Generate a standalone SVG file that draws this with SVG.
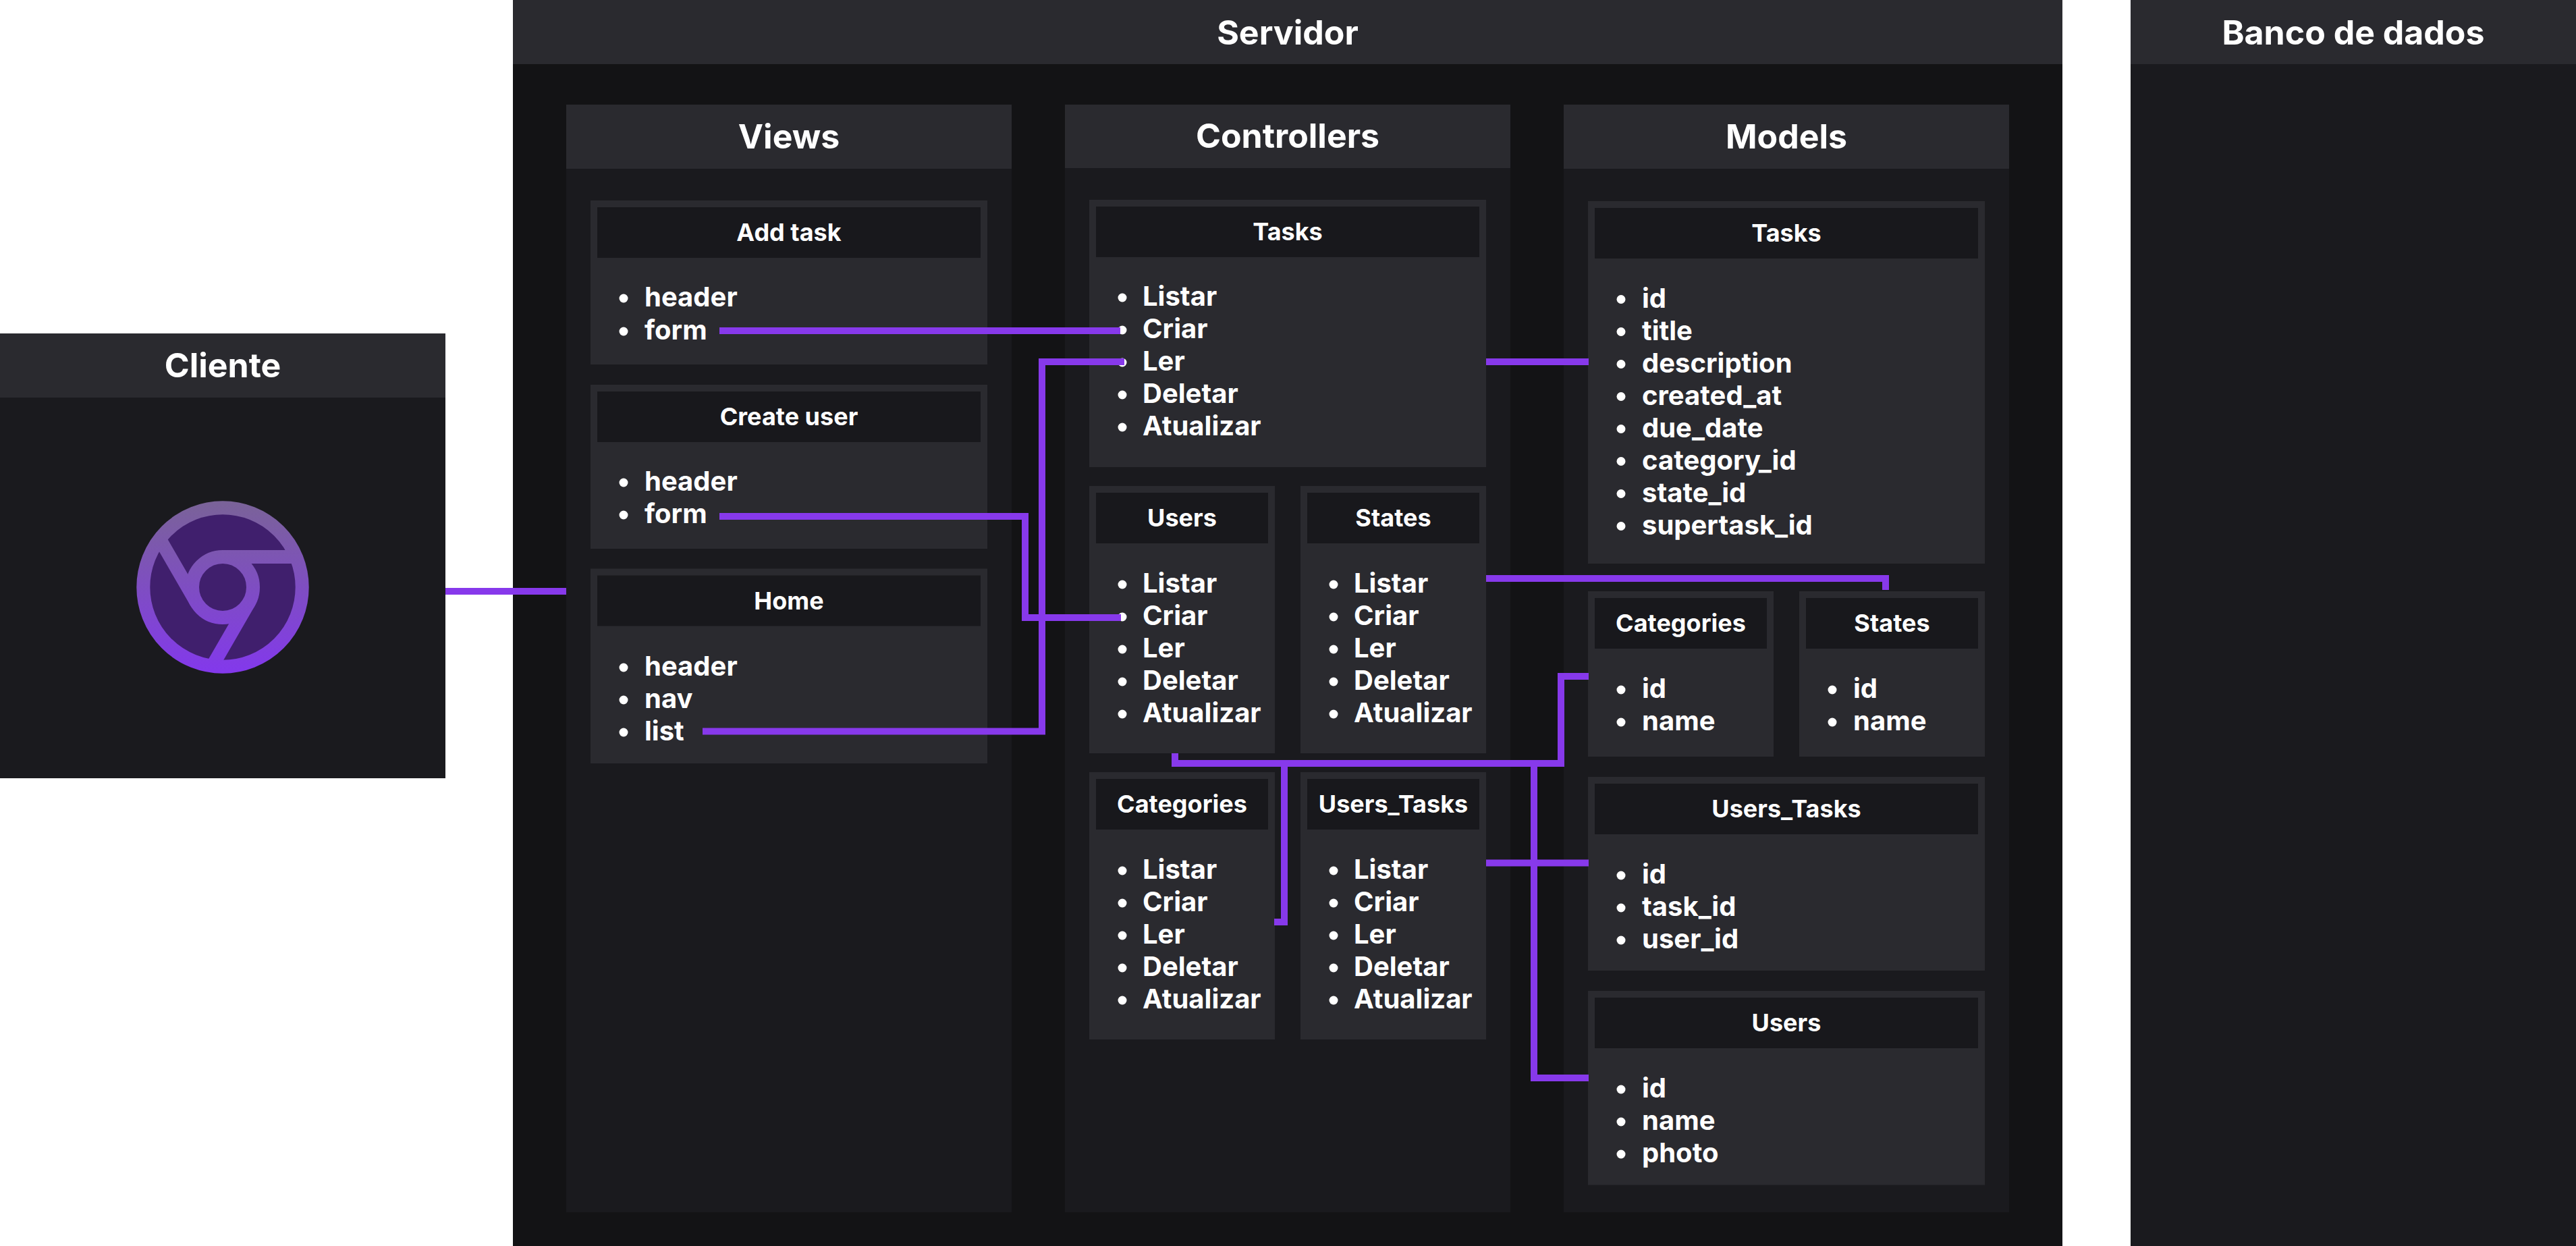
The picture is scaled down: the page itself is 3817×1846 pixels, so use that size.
<svg xmlns="http://www.w3.org/2000/svg" width="3817" height="1846" viewBox="0 0 3817 1846">
<style>
text{font-family:Inter,"Noto Sans","Liberation Sans",sans-serif;fill:#fff;text-anchor:middle;font-weight:700}
.lane{font-size:50px}
.col{font-size:50px}
.t{font-size:36px}
.i{font-size:40px;text-anchor:start}
.b0{fill:#1a1a1e}.b1{fill:#2a2a2f}.b2{fill:#18181c}.b3{fill:#131315}
circle.d{fill:#fff}
.c{fill:none;stroke:#8739eb;stroke-width:10}
.ic{fill:none;stroke:url(#g);stroke-width:20}
</style>
<defs><linearGradient id="g" gradientUnits="userSpaceOnUse" x1="0" y1="742" x2="0" y2="998"><stop offset="0" stop-color="#7a6398"/><stop offset="1" stop-color="#8338ec"/></linearGradient></defs>
<rect width="3817" height="1846" fill="#fff"/>
<g id="cliente">
<rect class="b0" x="0" y="494" width="660" height="659"/><rect class="b1" x="0" y="494" width="660" height="95"/>
<text class="lane" x="330" y="559">Cliente</text>
<g id="chrome-icon"><circle cx="330" cy="870" r="118" fill="#401f6d"/>
<circle class="ic" cx="330" cy="870" r="117.7"/><circle class="ic" cx="330" cy="870" r="45"/>
<path class="ic" d="M330 825H438M369 892.500L315 986M291 892.500L237 799"/></g>
</g>
<g id="servidor">
<rect class="b3" x="760" y="0" width="2296" height="1846"/><rect class="b1" x="760" y="0" width="2296" height="95"/>
<text class="lane" x="1908" y="66">Servidor</text>
</g>
<g id="banco">
<rect class="b0" x="3157" y="0" width="660" height="1846"/><rect class="b1" x="3157" y="0" width="660" height="95"/>
<text class="lane" x="3487" y="66">Banco de dados</text>
</g>
<g id="views">
<rect class="b0" x="839" y="155" width="660" height="1641"/><rect class="b1" x="839" y="155" width="660" height="95"/>
<text class="col" x="1169" y="220">Views</text>
</g>
<g id="controllers">
<rect class="b0" x="1578" y="155" width="660" height="1641"/><rect class="b1" x="1578" y="155" width="660" height="94"/>
<text class="col" x="1908" y="219">Controllers</text>
</g>
<g id="models">
<rect class="b0" x="2317" y="155" width="660" height="1641"/><rect class="b1" x="2317" y="155" width="660" height="95"/>
<text class="col" x="2647" y="220">Models</text>
</g>

<g id="view-add-task"><rect class="b1" x="875" y="297" width="588" height="243"/><rect class="b2" x="885" y="307" width="568" height="75"/>
<text class="t" x="1169" y="357">Add task</text>
<circle class="d" cx="924" cy="442" r="6.5"/><text class="i" x="955" y="454">header</text>
<circle class="d" cx="924" cy="491" r="6.5"/><text class="i" x="955" y="503">form</text></g>
<g id="view-create-user"><rect class="b1" x="875" y="570" width="588" height="243"/><rect class="b2" x="885" y="580" width="568" height="75"/>
<text class="t" x="1169" y="630">Create user</text>
<circle class="d" cx="924" cy="715" r="6.5"/><text class="i" x="955" y="727">header</text>
<circle class="d" cx="924" cy="763" r="6.5"/><text class="i" x="955" y="775">form</text></g>
<g id="view-home"><rect class="b1" x="875" y="842.500" width="588" height="288.500"/><rect class="b2" x="885" y="852.500" width="568" height="75"/>
<text class="t" x="1169" y="902.500">Home</text>
<circle class="d" cx="924" cy="989" r="6.5"/><text class="i" x="955" y="1000.500">header</text>
<circle class="d" cx="924" cy="1037" r="6.5"/><text class="i" x="955" y="1048.500">nav</text>
<circle class="d" cx="924" cy="1085" r="6.5"/><text class="i" x="955" y="1096.500">list</text></g>

<g id="ctrl-tasks"><rect class="b1" x="1614" y="296" width="588" height="396"/><rect class="b2" x="1624" y="306" width="568" height="75"/>
<text class="t" x="1908" y="356">Tasks</text>
<circle class="d" cx="1663" cy="441" r="6.5"/><text class="i" x="1693" y="453">Listar</text>
<circle class="d" cx="1663" cy="489" r="6.5"/><text class="i" x="1693" y="501">Criar</text>
<circle class="d" cx="1663" cy="537" r="6.5"/><text class="i" x="1693" y="549">Ler</text>
<circle class="d" cx="1663" cy="585" r="6.5"/><text class="i" x="1693" y="597">Deletar</text>
<circle class="d" cx="1663" cy="633" r="6.5"/><text class="i" x="1693" y="645">Atualizar</text></g>
<g id="ctrl-users"><rect class="b1" x="1614" y="720" width="275" height="396"/><rect class="b2" x="1624" y="730" width="255" height="75"/>
<text class="t" x="1751.5" y="780">Users</text>
<circle class="d" cx="1663" cy="866" r="6.5"/><text class="i" x="1693" y="878">Listar</text>
<circle class="d" cx="1663" cy="914" r="6.5"/><text class="i" x="1693" y="926">Criar</text>
<circle class="d" cx="1663" cy="962" r="6.5"/><text class="i" x="1693" y="974">Ler</text>
<circle class="d" cx="1663" cy="1010" r="6.5"/><text class="i" x="1693" y="1022">Deletar</text>
<circle class="d" cx="1663" cy="1058" r="6.5"/><text class="i" x="1693" y="1070">Atualizar</text></g>
<g id="ctrl-states"><rect class="b1" x="1927" y="720" width="275" height="396"/><rect class="b2" x="1937" y="730" width="255" height="75"/>
<text class="t" x="2064.5" y="780">States</text>
<circle class="d" cx="1976" cy="866" r="6.5"/><text class="i" x="2006" y="878">Listar</text>
<circle class="d" cx="1976" cy="914" r="6.5"/><text class="i" x="2006" y="926">Criar</text>
<circle class="d" cx="1976" cy="962" r="6.5"/><text class="i" x="2006" y="974">Ler</text>
<circle class="d" cx="1976" cy="1010" r="6.5"/><text class="i" x="2006" y="1022">Deletar</text>
<circle class="d" cx="1976" cy="1058" r="6.5"/><text class="i" x="2006" y="1070">Atualizar</text></g>
<g id="ctrl-categories"><rect class="b1" x="1614" y="1144" width="275" height="396"/><rect class="b2" x="1624" y="1154" width="255" height="75"/>
<text class="t" x="1751.5" y="1204">Categories</text>
<circle class="d" cx="1663" cy="1290" r="6.5"/><text class="i" x="1693" y="1302">Listar</text>
<circle class="d" cx="1663" cy="1338" r="6.5"/><text class="i" x="1693" y="1350">Criar</text>
<circle class="d" cx="1663" cy="1386" r="6.5"/><text class="i" x="1693" y="1398">Ler</text>
<circle class="d" cx="1663" cy="1434" r="6.5"/><text class="i" x="1693" y="1446">Deletar</text>
<circle class="d" cx="1663" cy="1482" r="6.5"/><text class="i" x="1693" y="1494">Atualizar</text></g>
<g id="ctrl-users-tasks"><rect class="b1" x="1927" y="1144" width="275" height="396"/><rect class="b2" x="1937" y="1154" width="255" height="75"/>
<text class="t" x="2064.5" y="1204">Users_Tasks</text>
<circle class="d" cx="1976" cy="1290" r="6.5"/><text class="i" x="2006" y="1302">Listar</text>
<circle class="d" cx="1976" cy="1338" r="6.5"/><text class="i" x="2006" y="1350">Criar</text>
<circle class="d" cx="1976" cy="1386" r="6.5"/><text class="i" x="2006" y="1398">Ler</text>
<circle class="d" cx="1976" cy="1434" r="6.5"/><text class="i" x="2006" y="1446">Deletar</text>
<circle class="d" cx="1976" cy="1482" r="6.5"/><text class="i" x="2006" y="1494">Atualizar</text></g>

<g id="model-tasks"><rect class="b1" x="2353" y="298" width="588" height="537"/><rect class="b2" x="2363" y="308" width="568" height="75"/>
<text class="t" x="2647" y="358">Tasks</text>
<circle class="d" cx="2402" cy="443.500" r="6.5"/><text class="i" x="2433" y="455.500">id</text>
<circle class="d" cx="2402" cy="491.500" r="6.5"/><text class="i" x="2433" y="503.500">title</text>
<circle class="d" cx="2402" cy="539.500" r="6.5"/><text class="i" x="2433" y="551.500">description</text>
<circle class="d" cx="2402" cy="587.500" r="6.5"/><text class="i" x="2433" y="599.500">created_at</text>
<circle class="d" cx="2402" cy="635.500" r="6.5"/><text class="i" x="2433" y="647.500">due_date</text>
<circle class="d" cx="2402" cy="683.500" r="6.5"/><text class="i" x="2433" y="695.500">category_id</text>
<circle class="d" cx="2402" cy="731.500" r="6.5"/><text class="i" x="2433" y="743.500">state_id</text>
<circle class="d" cx="2402" cy="779.500" r="6.5"/><text class="i" x="2433" y="791.500">supertask_id</text></g>
<g id="model-categories"><rect class="b1" x="2353" y="876" width="275" height="245"/><rect class="b2" x="2363" y="886" width="255" height="75"/>
<text class="t" x="2490.5" y="936">Categories</text>
<circle class="d" cx="2402" cy="1022" r="6.5"/><text class="i" x="2433" y="1034">id</text>
<circle class="d" cx="2402" cy="1070" r="6.5"/><text class="i" x="2433" y="1082">name</text></g>
<g id="model-states"><rect class="b1" x="2666" y="876" width="275" height="245"/><rect class="b2" x="2676" y="886" width="255" height="75"/>
<text class="t" x="2803.5" y="936">States</text>
<circle class="d" cx="2715" cy="1022" r="6.5"/><text class="i" x="2746" y="1034">id</text>
<circle class="d" cx="2715" cy="1070" r="6.5"/><text class="i" x="2746" y="1082">name</text></g>
<g id="model-users-tasks"><rect class="b1" x="2353" y="1151" width="588" height="287"/><rect class="b2" x="2363" y="1161" width="568" height="75"/>
<text class="t" x="2647" y="1211">Users_Tasks</text>
<circle class="d" cx="2402" cy="1297" r="6.5"/><text class="i" x="2433" y="1309">id</text>
<circle class="d" cx="2402" cy="1345" r="6.5"/><text class="i" x="2433" y="1357">task_id</text>
<circle class="d" cx="2402" cy="1393" r="6.5"/><text class="i" x="2433" y="1405">user_id</text></g>
<g id="model-users"><rect class="b1" x="2353" y="1468" width="588" height="287.500"/><rect class="b2" x="2363" y="1478" width="568" height="75"/>
<text class="t" x="2647" y="1528">Users</text>
<circle class="d" cx="2402" cy="1614" r="6.5"/><text class="i" x="2433" y="1626">id</text>
<circle class="d" cx="2402" cy="1662" r="6.5"/><text class="i" x="2433" y="1674">name</text>
<circle class="d" cx="2402" cy="1710" r="6.5"/><text class="i" x="2433" y="1722">photo</text></g>

<g id="connectors">
<path class="c" d="M660 876H839"/>
<path class="c" d="M1066 490H1660"/>
<path class="c" d="M1041 1083.500H1544V536H1666"/>
<path class="c" d="M1066 765H1519V915H1661"/>
<path class="c" d="M2202 536H2354"/>
<path class="c" d="M2202 857H2794V874"/>
<path class="c" d="M1741 1116V1131H2313V1002H2354"/>
<path class="c" d="M1903 1131V1366H1888"/>
<path class="c" d="M2273 1131V1597H2354"/>
<path class="c" d="M2202 1278.500H2354"/>
</g>
</svg>
